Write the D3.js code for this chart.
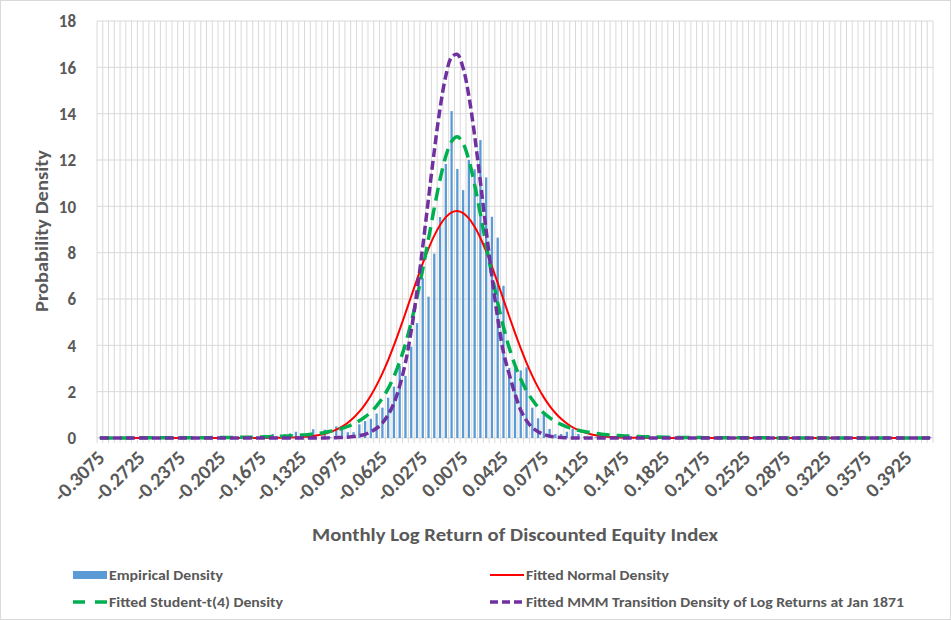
<!DOCTYPE html>
<html>
<head>
<meta charset="utf-8">
<script src="https://cdn.jsdelivr.net/npm/d3@7"></script>
<style>
  body { margin: 0; background: #ffffff; }
  svg text { font-family: Carlito, Calibri, Lato, "Open Sans", sans-serif; font-weight: bold; fill: #595959; }
</style>
</head>
<body>
<svg id="chart" width="951" height="620"></svg>
<script>
// Bin centres of monthly log returns (step 0.005)
const returnBins = d3.range(145).map(i => (-0.3075 + 0.005 * i).toFixed(4));

// Labelled bins along the x axis
const xTickLabels = ["-0.3075","-0.2725","-0.2375","-0.2025","-0.1675","-0.1325","-0.0975",
  "-0.0625","-0.0275","0.0075","0.0425","0.0775","0.1125","0.1475","0.1825","0.2175",
  "0.2525","0.2875","0.3225","0.3575","0.3925"];

// Density axis ticks
const yTicks = [0, 2, 4, 6, 8, 10, 12, 14, 16, 18];

// Empirical density per bin
const empiricalDensity = [
  0.03,0,0,0,0,0,0,0,0.03,0,
  0,0,0,0,0,0,0.03,0,0,0,
  0,0.03,0,0,0.03,0,0,0,0.03,0,
  0.17,0,0.17,0.2,0.27,0.15,0.1,0.38,0,0.36,
  0.04,0.5,0.5,0.25,0.25,0.59,0.73,0.83,1.06,1.31,
  1.74,2.22,3.12,2.68,3.94,4.96,6.9,6.1,7.96,9.54,
  11.83,14.11,11.61,10.7,12.0,11.6,12.86,11.25,9.55,8.65,
  6.57,3.03,3.1,2.92,3.05,1.31,0.85,1.05,0.39,0.17,
  0.17,0.27,0.4,0.17,0.06,0.05,0.03,0,0.03,0,
  0,0,0,0,0.03,0,0,0,0,0.03,
  0,0,0,0,0,0,0,0,0,0,
  0,0,0,0.03,0,0,0,0,0,0,
  0,0,0,0,0,0,0,0,0,0,
  0,0,0,0,0,0,0,0,0,0,
  0,0,0,0,0.05
];

// Fitted normal density per bin
const normalDensity = [
  0,0,0,0,0,0,0,0,0,0,
  0,0,0,0,0,0,0,0,0,0,
  0,0,0,0,0,0,0,0,0.002,0.003,
  0.005,0.007,0.012,0.018,0.027,0.042,0.062,0.091,0.131,0.187,
  0.262,0.363,0.493,0.661,0.873,1.135,1.454,1.834,2.281,2.791,
  3.366,3.998,4.677,5.39,6.119,6.842,7.536,8.176,8.738,9.197,
  9.536,9.74,9.8,9.711,9.48,9.114,8.632,8.054,7.4,6.698,
  5.973,5.246,4.538,3.867,3.246,2.684,2.186,1.753,1.386,1.078,
  0.827,0.624,0.464,0.34,0.246,0.175,0.122,0.084,0.057,0.038,
  0.025,0.016,0.01,0.006,0.004,0,0,0,0,0,
  0,0,0,0,0,0,0,0,0,0,
  0,0,0,0,0,0,0,0,0,0,
  0,0,0,0,0,0,0,0,0,0,
  0,0,0,0,0,0,0,0,0,0,
  0,0,0,0,0
];

// Fitted Student-t(4) density per bin
const studentDensity = [
  0.003,0.003,0.004,0.004,0.004,0.005,0.005,0.006,0.006,0.007,
  0.007,0.008,0.008,0.009,0.010,0.011,0.012,0.013,0.014,0.016,
  0.017,0.019,0.022,0.024,0.027,0.031,0.035,0.040,0.046,0.053,
  0.060,0.069,0.079,0.092,0.107,0.125,0.146,0.172,0.203,0.241,
  0.288,0.345,0.415,0.503,0.611,0.745,0.914,1.12,1.39,1.72,
  2.13,2.65,3.29,4.06,4.99,6.07,7.29,8.60,9.93,11.16,
  12.16,12.80,13.0,12.71,11.99,10.93,9.67,8.33,7.03,5.84,
  4.79,3.89,3.15,2.54,2.04,1.65,1.33,1.08,0.877,0.716,
  0.588,0.484,0.400,0.333,0.278,0.233,0.197,0.166,0.141,0.121,
  0.104,0.089,0.077,0.067,0.058,0.051,0.045,0.039,0.034,0.030,
  0.027,0.024,0.021,0.019,0.017,0.015,0.014,0.013,0.012,0.011,
  0.010,0.009,0.008,0.008,0.007,0.006,0.006,0.005,0.005,0.005,
  0.004,0.004,0.004,0.003,0.003,0.003,0.003,0.003,0.002,0.002,
  0.002,0.002,0.002,0.002,0.002,0.002,0.001,0.001,0.001,0.001,
  0.001,0.001,0.001,0.001,0.001
];

// Fitted MMM transition density of log returns at Jan 1871 per bin
const mmmDensity = [
  0,0,0,0,0,0,0,0,0,0,
  0,0,0,0,0,0,0,0,0,0,
  0,0,0,0,0,0,0,0,0,0,
  0,0,0,0,0,0,0,0,0,0,
  0.01,0.015,0.02,0.035,0.06,0.1,0.16,0.27,0.42,0.65,
  1.0,1.5,2.25,3.25,4.63,6.32,8.26,10.34,12.39,14.22,
  15.63,16.44,16.56,15.97,14.76,13.05,11.05,8.96,6.96,5.17,
  3.7,2.75,1.9,1.2,0.75,0.45,0.27,0.15,0.08,0.04,
  0.02,0.01,0,0,0,0,0,0,0,0,
  0,0,0,0,0,0,0,0,0,0,
  0,0,0,0,0,0,0,0,0,0,
  0,0,0,0,0,0,0,0,0,0,
  0,0,0,0,0,0,0,0,0,0,
  0,0,0,0,0,0,0,0,0,0,
  0,0,0,0,0
];

const svg = d3.select("#chart");
const plot = { left: 97, right: 933, top: 21, bottom: 438 };

const x = d3.scaleBand().domain(returnBins).range([plot.left, plot.right]).padding(0);
const y = d3.scaleLinear().domain([0, 18]).range([plot.bottom, plot.top]);
const cx = c => x(c) + x.bandwidth() / 2;

// chart frame
svg.append("rect").attr("x", 0.5).attr("y", 0.5).attr("width", 950).attr("height", 619)
  .attr("fill", "#ffffff").attr("stroke", "#d9d9d9");

// vertical gridlines at bin boundaries
const gridG = svg.append("g").attr("stroke", "#d9d9d9").attr("stroke-width", 1);
const edges = returnBins.map(c => x(c)).concat([plot.right]);
gridG.selectAll("line.v").data(edges).join("line").attr("class", "v")
  .attr("x1", d => d).attr("x2", d => d).attr("y1", plot.top).attr("y2", plot.bottom);
// horizontal gridlines
gridG.selectAll("line.h").data(yTicks).join("line").attr("class", "h")
  .attr("x1", plot.left).attr("x2", plot.right).attr("y1", d => y(d)).attr("y2", d => y(d));
// tick marks below the category axis
gridG.selectAll("line.t").data(edges).join("line").attr("class", "t")
  .attr("x1", d => d).attr("x2", d => d).attr("y1", plot.bottom).attr("y2", plot.bottom + 5);

// y axis labels
const yAxis = d3.axisLeft(y).tickValues(yTicks).tickSize(0).tickPadding(0);
const yG = svg.append("g").attr("transform", `translate(${76},0)`).call(yAxis);
yG.select(".domain").remove();
yG.selectAll("text").attr("font-size", 17).attr("dy", "0.34em")
  .style("font-family", null);

// x axis labels (rotated)
const xLabelG = svg.append("g");
xLabelG.selectAll("text").data(xTickLabels).join("text")
  .attr("text-anchor", "end")
  .attr("font-size", 20)
  .attr("transform", d => `translate(${cx(d) + 6},${plot.bottom + 21}) rotate(-45)`)
  .text(d => d);

// empirical density bars
const barW = 2.3;
svg.append("g").attr("fill", "#5b9bd5")
  .selectAll("rect").data(returnBins).join("rect")
  .attr("x", c => cx(c) - barW / 2)
  .attr("width", barW)
  .attr("y", (c, i) => y(empiricalDensity[i]))
  .attr("height", (c, i) => y(0) - y(empiricalDensity[i]));

// fitted curves
const lineGen = d3.line()
  .x((d, i) => cx(returnBins[i]))
  .y(d => y(d))
  .curve(d3.curveCatmullRom.alpha(0.5));

const series = [
  { values: normalDensity, color: "#ff0000", width: 2, dash: null },
  { values: studentDensity, color: "#00b050", width: 3.5, dash: "13,7" },
  { values: mmmDensity, color: "#7030a0", width: 3.5, dash: "9,4" }
];
series.forEach(s => {
  svg.append("path").datum(s.values)
    .attr("fill", "none")
    .attr("stroke", s.color)
    .attr("stroke-width", s.width)
    .attr("stroke-dasharray", s.dash)
    .attr("d", lineGen);
});

// axis titles (widths fitted to the narrow bold face)
svg.append("text").attr("x", 515).attr("y", 541).attr("text-anchor", "middle")
  .attr("font-size", 19).attr("textLength", 406).attr("lengthAdjust", "spacingAndGlyphs")
  .text("Monthly Log Return of Discounted Equity Index");
svg.append("text").attr("transform", "translate(48,231) rotate(-90)").attr("text-anchor", "middle")
  .attr("font-size", 19).attr("textLength", 162).attr("lengthAdjust", "spacingAndGlyphs")
  .text("Probability Density");

// legend
const legend = [
  { label: "Empirical Density", w: 114, type: "bar", color: "#5b9bd5", x: 73, y: 575 },
  { label: "Fitted Normal Density", w: 143, type: "line", color: "#ff0000", width: 2, dash: null, x: 490, y: 575 },
  { label: "Fitted Student-t(4) Density", w: 174, type: "line", color: "#00b050", width: 3.5, dash: "12,10", x: 73, y: 602 },
  { label: "Fitted MMM Transition Density of Log Returns at Jan 1871", w: 378, type: "line", color: "#7030a0", width: 3.5, dash: "8,4", x: 490, y: 602 }
];
const lg = svg.append("g");
legend.forEach(l => {
  if (l.type === "bar") {
    lg.append("rect").attr("x", l.x).attr("y", l.y - 4).attr("width", 34).attr("height", 8).attr("fill", l.color);
  } else {
    lg.append("line").attr("x1", l.x).attr("x2", l.x + 34).attr("y1", l.y).attr("y2", l.y)
      .attr("stroke", l.color).attr("stroke-width", l.width).attr("stroke-dasharray", l.dash);
  }
  lg.append("text").attr("x", l.x + 36).attr("y", l.y).attr("dy", "0.35em")
    .attr("font-size", 14.5).attr("textLength", l.w).attr("lengthAdjust", "spacingAndGlyphs")
    .text(l.label);
});
</script>
</body>
</html>
